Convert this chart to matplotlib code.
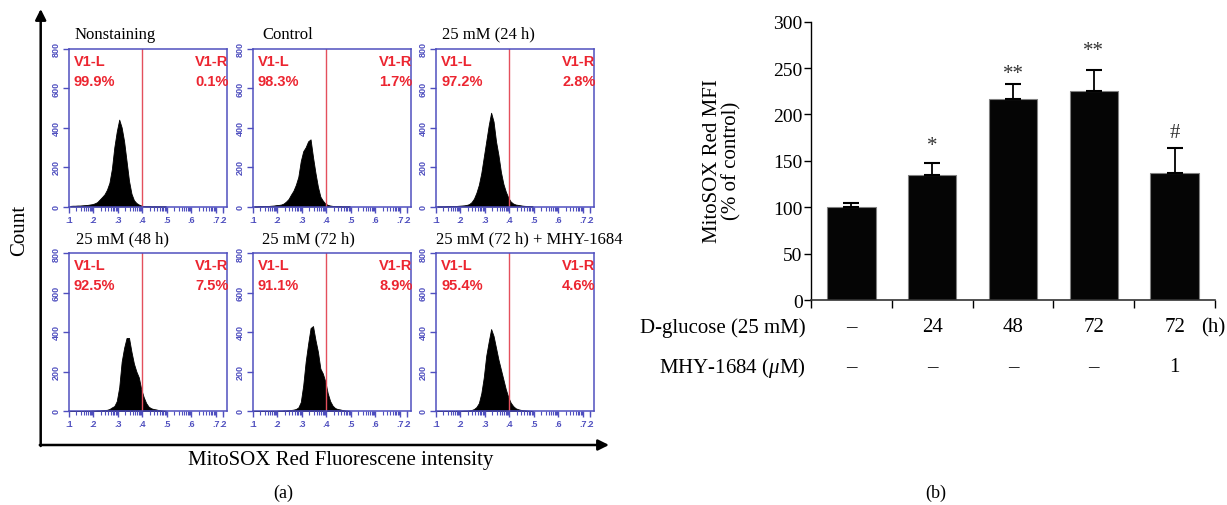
import matplotlib
matplotlib.use('Agg')
import matplotlib.pyplot as plt
import numpy as np

plt.rcParams['font.family'] = ['Liberation Serif', 'DejaVu Serif']
plt.rcParams['mathtext.fontset'] = 'custom'
plt.rcParams['mathtext.rm'] = 'Liberation Serif'
plt.rcParams['mathtext.it'] = 'Liberation Serif:italic'

# ---------------- Panel (a) data: flow cytometry histograms ----------------
hist_titles = ['Nonstaining', 'Control', '25 mM (24 h)',
               '25 mM (48 h)', '25 mM (72 h)', '25 mM (72 h) + MHY-1684']
pct_left = ['99.9%', '98.3%', '97.2%', '92.5%', '91.1%', '95.4%']
pct_right = ['0.1%', '1.7%', '2.8%', '7.5%', '8.9%', '4.6%']
gate_left_name = 'V1-L'
gate_right_name = 'V1-R'
gate_position = 4.0  # log10 fluorescence

bin_edges = np.linspace(1.0, 5.0, 41)  # log10 intensity bins (0.1 wide)
counts_nonstaining = [3, 4, 4, 5, 5, 6, 7, 8, 10, 12,
                      16, 22, 35, 48, 62, 85, 120, 190, 300, 380,
                      440, 400, 330, 230, 130, 65, 32, 18, 10, 5,
                      2, 1, 1, 0, 0, 0, 0, 0, 0, 0]
counts_control = [0, 0, 1, 1, 2, 2, 3, 4, 5, 7,
                  8, 10, 15, 25, 38, 60, 80, 110, 150, 230,
                  280, 300, 330, 340, 250, 170, 100, 50, 30, 15,
                  8, 5, 3, 2, 1, 1, 0, 0, 0, 0]
counts_24h = [0, 0, 0, 0, 1, 1, 2, 2, 3, 4,
              5, 6, 8, 12, 22, 40, 70, 110, 170, 250,
              330, 410, 475, 430, 330, 260, 175, 115, 75, 45,
              25, 15, 10, 8, 6, 4, 3, 2, 1, 0]
counts_48h = [0, 0, 0, 0, 0, 0, 1, 1, 1, 2,
              2, 3, 3, 4, 5, 6, 10, 18, 25, 50,
              120, 250, 320, 370, 370, 300, 240, 200, 170, 110,
              70, 40, 22, 14, 10, 8, 5, 3, 2, 1]
counts_72h = [0, 0, 0, 0, 0, 0, 0, 1, 1, 1,
              2, 2, 3, 3, 4, 5, 7, 10, 18, 45,
              130, 250, 340, 420, 430, 360, 300, 215, 190, 150,
              90, 50, 27, 15, 10, 8, 5, 3, 2, 1]
counts_72h_mhy = [0, 0, 0, 0, 0, 0, 0, 0, 1, 1,
                  1, 2, 2, 3, 5, 10, 20, 40, 90, 170,
                  280, 350, 415, 380, 320, 260, 210, 160, 110, 70,
                  42, 25, 14, 9, 6, 4, 3, 2, 1, 0]
hist_counts = [counts_nonstaining, counts_control, counts_24h,
               counts_48h, counts_72h, counts_72h_mhy]

hist_xticks = [1, 2, 3, 4, 5, 6, 7, 7.3]
hist_xticklabels = ['.1', '.2', '.3', '.4', '.5', '.6', '.7', '.2']
hist_yticks = [0, 200, 400, 600, 800]
hist_yticklabels = ['0', '200', '400', '600', '800']

# ---------------- Panel (b) data: bar chart ----------------
bar_means = [100, 135, 217, 225, 137]
bar_errors = [4.5, 13, 16, 23, 27]
bar_marks = ['', '*', '**', '**', '#']
mark_y = [0, 167, 244, 269, 181]
glucose_row = ['\u2013', '24', '48', '72', '72']
mhy_row = ['\u2013', '\u2013', '\u2013', '\u2013', '1']
yticks_b = [0, 50, 100, 150, 200, 250, 300]

# ---------------- Figure ----------------
W, H = 1227, 506
fig = plt.figure(figsize=(W / 100, H / 100), dpi=100)

bg = fig.add_axes([0, 0, 1, 1], zorder=-1)
bg.set_xlim(0, W)
bg.set_ylim(H, 0)
bg.axis('off')

blue = '#4f4fbf'
red_text = '#ec2530'
red_line = '#e4505c'

col_left = [69, 253, 436]
row_top = [49.5, 254]
BOX = 158
title_dx = [6, 9, 6, 7, 9, 0]

minor_ticks = [n + np.log10(k) for n in range(1, 8) for k in range(2, 10)
               if n + np.log10(k) < 7.45]
bin_centers = 0.5 * (bin_edges[:-1] + bin_edges[1:])

for i in range(6):
    r, c = divmod(i, 3)
    L, T = col_left[c], row_top[r]
    ax = fig.add_axes([L / W, 1 - (T + BOX) / H, BOX / W, BOX / H])
    ax.fill_between(bin_centers, 0, hist_counts[i], color='black',
                    linewidth=0.6, edgecolor='black')
    ax.set_xlim(1, 7.45)
    ax.set_ylim(0, 800)
    ax.axvline(gate_position, color=red_line, lw=1.0)
    for s in ax.spines.values():
        s.set_color(blue)
        s.set_linewidth(1.1)
    ax.set_xticks(hist_xticks)
    ax.set_xticklabels(hist_xticklabels)
    ax.set_xticks(minor_ticks, minor=True)
    ax.set_yticks(hist_yticks)
    ax.set_yticklabels(hist_yticklabels, rotation=90, va='center')
    ax.tick_params(which='major', colors=blue, labelsize=6.5, length=4,
                   width=1.0, pad=2)
    ax.tick_params(which='minor', colors=blue, length=3, width=0.8)
    for lab in ax.get_xticklabels() + ax.get_yticklabels():
        lab.set_fontweight('bold')
        lab.set_family('Liberation Sans')
    ax.text(5 / BOX, 1 - 12 / BOX, gate_left_name, transform=ax.transAxes,
            color=red_text, fontsize=10.5, fontweight='bold',
            family='Liberation Sans', ha='left', va='center')
    ax.text(5 / BOX, 1 - 32 / BOX, pct_left[i], transform=ax.transAxes,
            color=red_text, fontsize=10.5, fontweight='bold',
            family='Liberation Sans', ha='left', va='center')
    ax.text(1.01, 1 - 12 / BOX, gate_right_name, transform=ax.transAxes,
            color=red_text, fontsize=10.5, fontweight='bold',
            family='Liberation Sans', ha='right', va='center', clip_on=False)
    ax.text(1.01, 1 - 32 / BOX, pct_right[i], transform=ax.transAxes,
            color=red_text, fontsize=10.5, fontweight='bold',
            family='Liberation Sans', ha='right', va='center', clip_on=False)
    ax.text(title_dx[i] / BOX, 1 + 11 / BOX, hist_titles[i],
            transform=ax.transAxes, fontsize=12, ha='left', va='baseline')

# big axes arrows of panel (a)
bg.annotate('', xy=(40.7, 10), xytext=(40.7, 447),
            arrowprops=dict(arrowstyle='-|>', lw=1.8, color='black',
                            mutation_scale=16, shrinkA=0, shrinkB=0))
bg.annotate('', xy=(609, 446), xytext=(39.8, 446),
            arrowprops=dict(arrowstyle='-|>', lw=1.8, color='black',
                            mutation_scale=16, shrinkA=0, shrinkB=0))
bg.text(20, 230, 'Count', rotation=90, fontsize=15, ha='center', va='center')
bg.text(341, 461, 'MitoSOX Red Fluorescene intensity', fontsize=15,
        ha='center', va='center')
bg.text(283, 493, '(a)', fontsize=13, ha='center', va='center')
bg.text(936, 493, '(b)', fontsize=13, ha='center', va='center')

# ---------------- Panel (b) ----------------
y0_px, y300_px = 301, 22.7
x_left_px, x_right_px = 811, 1215
axb = fig.add_axes([x_left_px / W, 1 - y0_px / H,
                    (x_right_px - x_left_px) / W, (y0_px - y300_px) / H])
xpos = np.arange(len(bar_means)) + 0.5
axb.bar(xpos, bar_means, width=0.6, color='#050505', edgecolor='#808080',
        linewidth=0.8,
        yerr=[np.zeros(len(bar_errors)), bar_errors],
        error_kw=dict(ecolor='black', elinewidth=1.3, capsize=5.5,
                      capthick=1.5))
axb.set_xlim(0, len(bar_means))
axb.set_ylim(0, 300)
axb.set_yticks(yticks_b)
axb.set_xticks(np.arange(len(bar_means) + 1))
axb.set_xticklabels([])
axb.spines['top'].set_visible(False)
axb.spines['right'].set_visible(False)
axb.spines['left'].set_linewidth(1.0)
axb.spines['bottom'].set_linewidth(1.2)
axb.spines['bottom'].set_color('#333333')
axb.tick_params(axis='y', direction='out', length=5, width=1.0, labelsize=14,
                pad=1)
axb.tick_params(axis='x', direction='out', length=6, width=1.0)

for xp, m, yy in zip(xpos, bar_marks, mark_y):
    if m:
        axb.text(xp, yy, m, ha='center', va='center', fontsize=15,
                 color='#333333')

trans = axb.get_xaxis_transform()
row1_y = (y0_px - 328) / (y0_px - y300_px)
row2_y = (y0_px - 368) / (y0_px - y300_px)
axb.text(-0.07, row1_y, 'D-glucose (25 mM)', transform=trans, ha='right',
         va='center', fontsize=15, clip_on=False)
axb.text(-0.07, row2_y, 'MHY-1684 ($\\mathit{\\mu}$M)', transform=trans,
         ha='right', va='center', fontsize=15, clip_on=False)
for xp, g, mh in zip(xpos, glucose_row, mhy_row):
    axb.text(xp, row1_y, g, transform=trans, ha='center', va='center',
             fontsize=15, clip_on=False)
    axb.text(xp, row2_y, mh, transform=trans, ha='center', va='center',
             fontsize=15, clip_on=False)
axb.text(4.98, row1_y, '(h)', transform=trans, ha='center', va='center',
         fontsize=15, clip_on=False)

bg.text(722, 161, 'MitoSOX Red MFI\n(% of control)', rotation=90,
        fontsize=15, ha='center', va='center', multialignment='center',
        linespacing=1.0)

fig.savefig('out.png', dpi=100)
